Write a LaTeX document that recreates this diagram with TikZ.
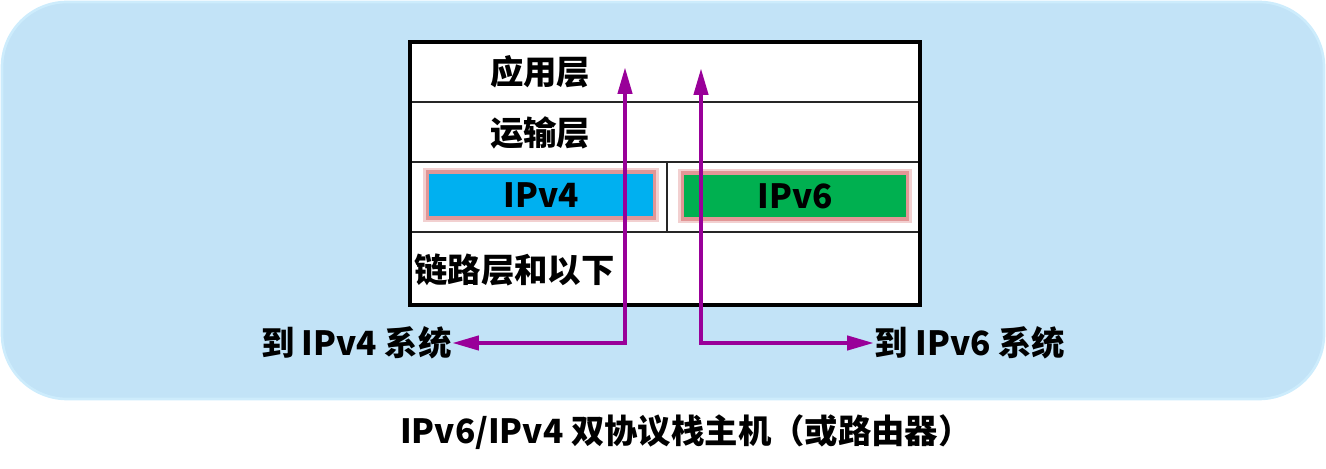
\documentclass[tikz,border=0pt]{standalone}
\usepackage{fontspec}
\newfontfamily\cjk{Noto Sans CJK SC}
\usetikzlibrary{arrows.meta,positioning}
\definecolor{bgblue}{RGB}{194,227,247}
\definecolor{bgedge}{RGB}{205,236,252}
\definecolor{ipvfour}{RGB}{0,176,240}
\definecolor{ipvsix}{RGB}{0,176,80}
\definecolor{glow}{RGB}{226,150,150}
\definecolor{purp}{RGB}{153,0,153}

\begin{document}
\begin{tikzpicture}[x=0.02cm,y=-0.02cm,
    every node/.style={font=\cjk\bfseries\fontsize{19pt}{21pt}\selectfont},
    row/.style={draw=black!85, line width=1.2pt, fill=white, minimum width=10.2cm, inner sep=0pt, outer sep=0pt},
    cell/.style={row, minimum height=1.4cm},
    frame/.style={draw=black, line width=2.6pt},
    ipbox/.style={draw=glow, line width=2.2pt, minimum height=0.92cm, inner sep=0pt},
    halo/.style={draw=glow!45, line width=5pt, minimum height=0.92cm, inner sep=0pt},
    path/.style={draw=purp, line width=2.5pt, {Triangle[length=5.4mm,width=2.8mm]}-{Triangle[length=5.4mm,width=2.8mm]}}]
        \useasboundingbox (0,0) rectangle (1326,469);
        \fill[bgblue, draw=bgedge, line width=1.5pt, rounded corners=1.3cm] (2,2) rectangle (1324,399);
        % the stack
        \node[row, minimum height=1.2cm] (app) at (665,72) {};
        \node[row, minimum height=1.2cm, below=0pt of app] (trans) {};
        \node[cell, minimum width=5.14cm, anchor=north west] (v4cell) at (trans.south west) {};
        \node[cell, minimum width=5.06cm, anchor=north west] (v6cell) at (v4cell.north east) {};
        \node[row, minimum height=1.46cm, anchor=north west] (link) at (v4cell.south west) {};
        \draw[frame] (app.north west) rectangle (link.south east);
        \node[anchor=west] (applbl) at (484,72) {应用层};
        \node[anchor=west] (translbl) at (484,133) {运输层};
        \node[anchor=west, inner sep=0pt] (linklbl) at (414,270) {链路层和以下};
        \node[halo, minimum width=4.54cm] (v4halo) at (541,195) {};
        \node[halo, minimum width=4.5cm] (v6halo) at (795,196) {};
        \node[ipbox, fill=ipvfour, minimum width=4.54cm] (v4) at (541,195) {IPv4};
        \node[ipbox, fill=ipvsix, minimum width=4.5cm] (v6) at (795,196) {IPv6};
        % paths out
        \coordinate (v4top) at (625,67);
        \coordinate (v6top) at (701,68);
        \node[anchor=east, inner sep=0pt] (tov4) at (452,343) {到 IPv4 系统};
        \node[anchor=west, inner sep=0pt] (tov6) at (874,343) {到 IPv6 系统};
        \draw[path] (v4top) |- (tov4.east);
        \draw[path] (v6top) |- (tov6.west);
        \node (caption) at (686,432) {IPv6/IPv4 双协议栈主机（或路由器）};
\end{tikzpicture}
\end{document}
